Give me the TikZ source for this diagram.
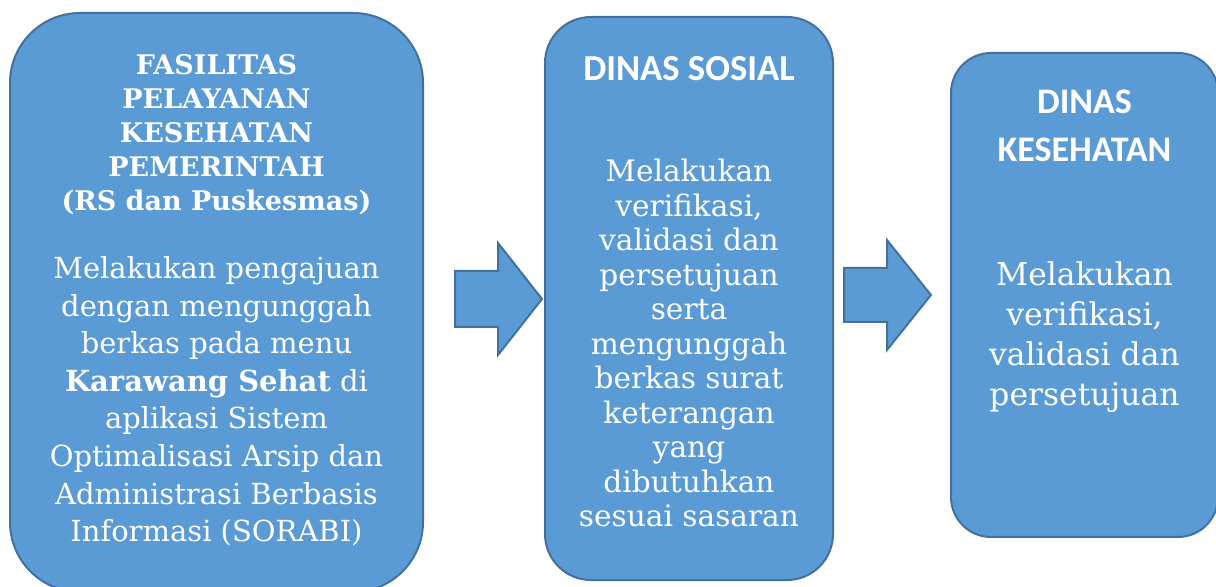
\documentclass[tikz,border=0pt]{standalone}
\usepackage{fontspec}
\setmainfont{DejaVu Serif}
\newfontfamily\calibri{Carlito}
\usetikzlibrary{positioning}
\definecolor{boxfill}{HTML}{5B9BD5}
\definecolor{boxline}{HTML}{41719C}
\tikzset{
  flowbox/.style={rectangle, draw=boxline, fill=boxfill, line width=1pt},
  boxtext/.style={text=white, align=center, inner sep=0pt},
  blockarrow/.style={draw=boxline, fill=boxfill, line width=1pt, line join=miter}
}

\begin{document}
\begin{tikzpicture}[x=0.5pt, y=-0.5pt]
  \path [use as bounding box, clip] (0,0) rectangle (1216,587);
  \node [flowbox, rounded corners=35pt, minimum width=206.5pt, minimum height=289.5pt] (fasilitas) at (216.5,302.5) {};
  \node [flowbox, rounded corners=23pt, minimum width=144pt, minimum height=281.5pt] (dinsos) at (689,298.5) {};
  \node [flowbox, rounded corners=20pt, minimum width=133.5pt, minimum height=242pt] (dinkes) at (1084.5,295) {};

  \node [boxtext, font=\bfseries\fontsize{13.5}{17}\selectfont, below=21pt of fasilitas.north] (fasilitastitle)
    {FASILITAS\\PELAYANAN\\KESEHATAN\\PEMERINTAH\\(RS dan Puskesmas)};
  \node [boxtext, font=\fontsize{14.5}{18.8}\selectfont, below=20.5pt of fasilitastitle] (fasilitastext)
    {Melakukan pengajuan\\dengan mengunggah\\berkas pada menu\\\textbf{Karawang Sehat} di\\aplikasi Sistem\\Optimalisasi Arsip dan\\Administrasi Berbasis\\Informasi (SORABI)};

  \node [boxtext, font=\calibri\bfseries\fontsize{18.3}{22}\selectfont, below=20pt of dinsos.north] (dinsostitle) {DINAS SOSIAL};
  \node [boxtext, font=\fontsize{14.8}{17.25}\selectfont, below=39pt of dinsostitle] (dinsostext)
    {Melakukan\\verifikasi,\\validasi dan\\persetujuan\\serta\\mengunggah\\berkas surat\\keterangan\\yang\\dibutuhkan\\sesuai sasaran};

  \node [boxtext, font=\calibri\bfseries\fontsize{18}{24}\selectfont, below=18.5pt of dinkes.north] (dinkestitle) {DINAS\\KESEHATAN};
  \node [boxtext, font=\fontsize{15.7}{20}\selectfont, below=50pt of dinkestitle] (dinkestext)
    {Melakukan\\verifikasi,\\validasi dan\\persetujuan};

  \draw [blockarrow] (455,271) -- (498,271) -- (498,243) -- (542,299) -- (498,355) -- (498,327) -- (455,327) -- cycle;
  \draw [blockarrow] (844,268) -- (887,268) -- (887,240) -- (931,295) -- (887,350) -- (887,322) -- (844,322) -- cycle;
\end{tikzpicture}
\end{document}
